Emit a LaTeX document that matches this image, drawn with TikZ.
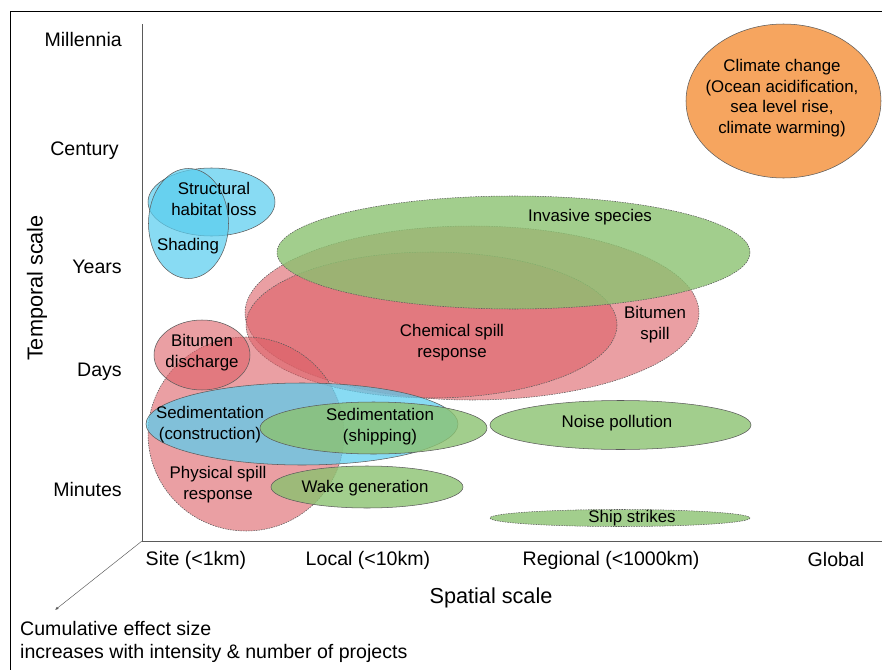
\documentclass[tikz,border=0pt]{standalone}
\usepackage{fontspec}
\setmainfont{Liberation Sans}
\usetikzlibrary{arrows.meta}

\definecolor{spillred}{HTML}{DC5F66}
\definecolor{habitatblue}{HTML}{5ACDEE}
\definecolor{shipgreen}{HTML}{8BC270}
\definecolor{climateorange}{HTML}{F6A55F}
\definecolor{edgegrey}{HTML}{5A5A5A}

\tikzset{
	impact/.style={draw=edgegrey, line width=0.45pt},
	dashedge/.style={dash pattern=on 1.3pt off 0.9pt},
	redfill/.style={fill=spillred, fill opacity=0.6},
	bluefill/.style={fill=habitatblue, fill opacity=0.72},
	greenfill/.style={fill=shipgreen, fill opacity=0.8},
	lbl/.style={inner sep=0pt, align=center, font=\fontsize{14.4}{17.9}\selectfont},
	tick/.style={inner sep=0pt, font=\fontsize{16.7}{20}\selectfont},
	axistitle/.style={inner sep=0pt, font=\fontsize{18.5}{22}\selectfont}
}

\begin{document}
\begin{tikzpicture}[x=0.03cm, y=-0.03cm]
			%%%%% START %%%%%
			\useasboundingbox (0, 0) rectangle (882, 670);
			
			% frame
			\draw[line width=0.8pt] (10, 670) -- (10, 11) -- (882, 11);
			
			% axes
			\coordinate (origin) at (142, 541);
			\coordinate (ytop) at (142, 24);
			\coordinate (xend) at (882, 541);
			\coordinate (cumtip) at (55, 610);
			\draw[edgegrey, line width=0.7pt] (ytop) -- (origin) -- (xend);
			\draw[edgegrey, line width=0.4pt, -{Latex[length=3pt, width=2.4pt]}] (origin) -- (cumtip);
			
			% global
			\draw[impact, fill=climateorange] (783.5, 101) ellipse (97.5 and 77);
			
			% habitat
			\draw[impact, bluefill] (211.5, 202) ellipse (63.5 and 34);
			\draw[impact, bluefill] (188.5, 223.5) ellipse (40 and 55);
			
			% spills
			\draw[impact, dashedge, redfill] (472, 313) ellipse (227 and 87);
			\draw[impact, dashedge, redfill] (431.5, 325) ellipse (185.5 and 73);
			\draw[impact, dashedge, greenfill] (513.5, 252.5) ellipse (236.5 and 56.5);
			
			\draw[impact, dashedge, redfill] (246, 434) ellipse (98 and 97);
			\draw[impact, redfill] (202, 355) ellipse (48 and 35);
			
			% sediment, noise, wake
			\draw[impact, bluefill] (302, 424) ellipse (156 and 41);
			\draw[impact, greenfill] (373.5, 428) ellipse (113.5 and 26);
			\draw[impact, greenfill] (367, 487) ellipse (96 and 21);
			\draw[impact, greenfill] (620.5, 425) ellipse (130.5 and 24.5);
			\draw[impact, dashedge, greenfill] (620, 518) ellipse (130 and 8.5);
			
			% labels
			\node[lbl, font=\fontsize{14.4}{17.5}\selectfont] (climate) at (782, 98) {Climate change\\(Ocean acidification,\\sea level rise,\\climate warming)};
			\node[lbl] (habitat) at (214, 199) {Structural\\habitat loss};
			\node[lbl] (shading) at (188, 246) {Shading};
			\node[lbl] (invasive) at (590, 217) {Invasive species};
			\node[lbl] (bitspill) at (655, 325) {Bitumen\\spill};
			\node[lbl] (chemspill) at (452, 343) {Chemical spill\\response};
			\node[lbl] (bitdis) at (202, 353) {Bitumen\\discharge};
			\node[lbl] (sedcon) at (210, 425) {Sedimentation\\(construction)};
			\node[lbl] (sedship) at (380, 427) {Sedimentation\\(shipping)};
			\node[lbl] (physspill) at (218, 485) {Physical spill\\response};
			\node[lbl] (wake) at (365, 488) {Wake generation};
			\node[lbl] (noise) at (617, 423) {Noise pollution};
			\node[lbl] (strikes) at (632, 518) {Ship strikes};
			
			% temporal ticks
			\node[tick, anchor=east] (tmil) at (122, 40) {Millennia};
			\node[tick, anchor=east] (tcen) at (119, 151) {Century};
			\node[tick, anchor=east] (tyear) at (122, 267) {Years};
			\node[tick, anchor=east] (tday) at (122, 372) {Days};
			\node[tick, anchor=east] (tmin) at (122, 490) {Minutes};
			\node[axistitle, rotate=90] (ylabel) at (37, 288) {Temporal scale};
			
			% spatial ticks
			\node[tick] (xsite) at (196, 560) {Site (<1km)};
			\node[tick] (xlocal) at (368, 560) {Local (<10km)};
			\node[tick] (xreg) at (611, 560) {Regional (<1000km)};
			\node[tick] (xglob) at (836, 560) {Global};
			\node[axistitle] (xlabel) at (491, 598) {Spatial scale};
			
			\node[tick, anchor=north west, align=left, font=\fontsize{16.7}{19.5}\selectfont] (cumul) at (20, 621) {Cumulative effect size\\increases with intensity \& number of projects};
			%%%%% END %%%%%
\end{tikzpicture}
\end{document}
